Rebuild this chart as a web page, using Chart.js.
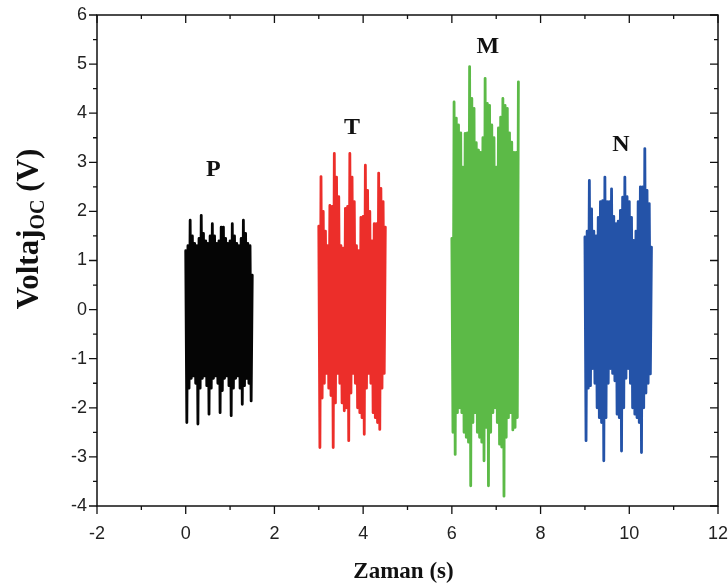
<!DOCTYPE html>
<html><head><meta charset="utf-8">
<script src="https://cdn.jsdelivr.net/npm/chart.js@4/dist/chart.umd.min.js"></script>
<style>html,body{margin:0;padding:0;background:#fff}</style>
</head><body>
<canvas id="c" width="728" height="587"></canvas>
<script>
// ---- data ----
const xTicks = [-2, 0, 2, 4, 6, 8, 10, 12];
const xMinorTicks = [-1, 1, 3, 5, 7, 9, 11];
const yTicks = [-4, -3, -2, -1, 0, 1, 2, 3, 4, 5, 6];
const yMinorTicks = [-3.5, -2.5, -1.5, -0.5, 0.5, 1.5, 2.5, 3.5, 4.5, 5.5];
const seriesNames = ['P', 'T', 'M', 'N'];
const burstStart = [0, 3, 6, 9];      // s, start of each burst
const sampleStep = 0.05;              // s between successive upper samples

const pUpper = [1.2,1.3,1.82,1.5,1.35,1.3,1.45,1.92,1.55,1.4,1.35,1.5,1.75,1.5,1.35,1.4,1.68,1.68,1.45,1.35,1.4,1.75,1.5,1.35,1.3,1.45,1.82,1.55,1.35,1.3,0.7];
const pLower = [-2.3,-1.6,-1.4,-1.35,-1.5,-2.33,-1.6,-1.4,-1.35,-1.55,-2.13,-1.6,-1.4,-1.35,-1.5,-2.1,-1.65,-1.4,-1.35,-1.55,-2.16,-1.6,-1.4,-1.35,-1.6,-1.93,-1.55,-1.4,-1.5,-1.86];

const tUpper = [1.7,2.71,2.0,1.6,1.3,2.12,2.1,3.18,2.7,2.3,1.3,1.25,2.06,2.1,3.18,2.7,2.2,1.3,1.2,1.88,1.9,2.94,2.43,2.0,1.4,1.75,1.75,2.78,2.47,2.2,1.68];
const tLower = [-2.81,-1.8,-1.5,-1.3,-1.6,-1.75,-2.81,-1.9,-1.3,-1.5,-1.9,-2.06,-2.0,-2.67,-1.7,-1.3,-1.5,-2.0,-2.1,-2.2,-2.54,-1.6,-1.3,-1.5,-2.1,-2.2,-2.3,-2.44,-1.6,-1.3];

const mUpper = [1.45,4.23,3.9,3.76,3.6,2.9,3.59,3.6,4.95,4.3,4.1,3.4,3.25,3.2,3.5,4.71,4.2,4.16,3.76,3.5,2.9,3.7,3.92,4.3,4.16,4.1,3.6,3.41,3.2,3.2,4.64];
const mLower = [-2.5,-2.95,-2.1,-2.0,-2.1,-2.5,-2.6,-2.7,-3.59,-2.3,-2.1,-2.5,-2.6,-2.7,-3.08,-2.4,-3.59,-2.5,-2.1,-2.0,-2.3,-2.74,-2.8,-3.8,-2.6,-2.2,-2.1,-2.45,-2.4,-2.2];

const nUpper = [1.48,1.6,2.63,2.05,1.6,1.5,1.88,2.2,2.22,2.7,2.2,2.2,2.46,1.9,1.75,1.8,2.02,2.29,2.7,2.3,2.2,1.88,1.41,1.6,2.2,2.5,2.5,3.28,2.43,2.16,1.27];
const nLower = [-2.67,-1.6,-1.55,-1.2,-1.5,-2.0,-2.2,-2.3,-3.08,-2.2,-1.5,-1.2,-1.3,-1.45,-2.13,-2.2,-2.88,-2.0,-1.4,-1.2,-1.5,-2.0,-2.13,-2.2,-2.3,-2.91,-2.0,-1.7,-1.5,-1.31];

const labelX = [0.62, 3.75, 6.81, 9.81];
const labelY = [2.84, 3.71, 5.35, 3.35];

// ---- styles ----
const seriesColors = ['#050505', '#ec2e2a', '#5cba47', '#2453a8'];
const serifBold = '"Liberation Serif", "DejaVu Serif", serif';
const sansFont = '"Liberation Sans", Arial, sans-serif';

function buildPoints(start, upper, lower) {
  const pts = [];
  for (let i = 0; i < upper.length; i++) {
    pts.push({x: start + i * sampleStep, y: upper[i]});
    if (i < lower.length) pts.push({x: start + i * sampleStep + sampleStep / 2, y: lower[i]});
  }
  return pts;
}
const uppers = [pUpper, tUpper, mUpper, nUpper];
const lowers = [pLower, tLower, mLower, nLower];

const datasets = seriesNames.map((n, k) => ({
  label: n,
  data: buildPoints(burstStart[k], uppers[k], lowers[k]),
  borderColor: seriesColors[k],
  backgroundColor: seriesColors[k],
  borderWidth: 2.8,
  pointRadius: 0,
  showLine: true,
  tension: 0,
  borderJoinStyle: 'round',
  borderCapStyle: 'round'
}));

const framePlugin = {
  id: 'frame',
  afterDatasetsDraw(chart) {
    const {ctx, chartArea: a, scales: {x, y}} = chart;
    ctx.save();
    ctx.strokeStyle = '#111';
    ctx.lineWidth = 1.5;
    ctx.strokeRect(a.left, a.top, a.right - a.left, a.bottom - a.top);
    ctx.lineWidth = 1.3;
    ctx.beginPath();
    const maj = 8, min = 4;
    xTicks.forEach(v => { const p = x.getPixelForValue(v);
      ctx.moveTo(p, a.bottom); ctx.lineTo(p, a.bottom + maj);
      ctx.moveTo(p, a.top); ctx.lineTo(p, a.top + maj); });
    xMinorTicks.forEach(v => { const p = x.getPixelForValue(v);
      ctx.moveTo(p, a.bottom); ctx.lineTo(p, a.bottom + min);
      ctx.moveTo(p, a.top); ctx.lineTo(p, a.top + min); });
    yTicks.forEach(v => { const p = y.getPixelForValue(v);
      ctx.moveTo(a.left, p); ctx.lineTo(a.left - maj, p);
      ctx.moveTo(a.right, p); ctx.lineTo(a.right - maj, p); });
    yMinorTicks.forEach(v => { const p = y.getPixelForValue(v);
      ctx.moveTo(a.left, p); ctx.lineTo(a.left - min, p);
      ctx.moveTo(a.right, p); ctx.lineTo(a.right - min, p); });
    ctx.stroke();
    ctx.restore();
  },
  afterDraw(chart) {
    const {ctx, chartArea: a, scales: {x, y}} = chart;
    ctx.save();
    ctx.fillStyle = '#111';
    ctx.textAlign = 'center';
    ctx.textBaseline = 'middle';
    ctx.font = 'bold 24px ' + serifBold;
    seriesNames.forEach((n, k) => {
      ctx.fillText(n, x.getPixelForValue(labelX[k]), y.getPixelForValue(labelY[k]));
    });
    // x title
    ctx.font = 'bold 23px ' + serifBold;
    ctx.textBaseline = 'alphabetic';
    ctx.fillText('Zaman (s)', (a.left + a.right) / 2 - 4, 578);
    // y title with subscript
    ctx.translate(38, 229);
    ctx.rotate(-Math.PI / 2);
    const bigF = 'bold 31px ' + serifBold, subF = 'bold 20px ' + serifBold;
    ctx.font = bigF; const w1 = ctx.measureText('Voltaj').width;
    const w3 = ctx.measureText(' (V)').width;
    ctx.font = subF; const w2 = ctx.measureText('OC').width;
    let sx = -(w1 + w2 + w3) / 2;
    ctx.textAlign = 'left';
    ctx.font = bigF; ctx.fillText('Voltaj', sx, 0);
    ctx.font = subF; ctx.fillText('OC', sx + w1, 6);
    ctx.font = bigF; ctx.fillText(' (V)', sx + w1 + w2, 0);
    ctx.restore();
  }
};

new Chart(document.getElementById('c'), {
  type: 'scatter',
  data: {datasets},
  options: {
    responsive: false,
    animation: false,
    devicePixelRatio: 1,
    layout: {padding: {top: 15, right: 10, left: 0, bottom: 0}},
    plugins: {legend: {display: false}, tooltip: {enabled: false}},
    scales: {
      x: {
        type: 'linear', min: -2, max: 12,
        afterBuildTicks: s => { s.ticks = xTicks.map(v => ({value: v})); },
        afterFit: s => { s.height = 81; s.paddingLeft = 0; s.paddingRight = 0; },
        grid: {display: false, drawTicks: false},
        border: {display: false},
        ticks: {color: '#222', font: {family: sansFont, size: 18}, padding: 17, maxRotation: 0}
      },
      y: {
        type: 'linear', min: -4, max: 6,
        afterBuildTicks: s => { s.ticks = yTicks.map(v => ({value: v})); },
        afterFit: s => { s.width = 97; s.paddingTop = 0; s.paddingBottom = 0; },
        grid: {display: false, drawTicks: false},
        border: {display: false},
        ticks: {color: '#222', font: {family: sansFont, size: 18}, padding: 10}
      }
    }
  },
  plugins: [framePlugin]
});
</script>
</body></html>
